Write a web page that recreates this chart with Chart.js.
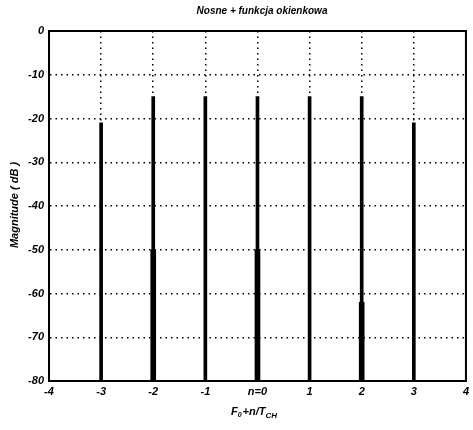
<!DOCTYPE html>
<html>
<head>
<meta charset="utf-8">
<script src="https://cdn.jsdelivr.net/npm/chart.js@4"></script>
<style>
  html, body { margin: 0; padding: 0; background: #fff; }
  #wrap { width: 473px; height: 430px; }
</style>
</head>
<body>
<div id="wrap"><canvas id="chart" width="473" height="430"></canvas></div>
<script>
// carrier positions (F0 + n/Tch) and peak magnitude in dB
const carriers = [-3, -2, -1, 0, 1, 2, 3];
const peaks = [-21, -15, -15, -15, -15, -15, -21];
const floorDb = -80;

// thicker lower parts of some lines
const thickAt = [-2, 0, 2];
const thickTop = [-50, -50, -62];

const xTicks = [-4, -3, -2, -1, 0, 1, 2, 3, 4];
const yTicks = [0, -10, -20, -30, -40, -50, -60, -70, -80];

const FONT = "'Liberation Sans', Arial, sans-serif";

const framePlugin = {
  id: "frame",
  afterDraw(chart) {
    const { ctx, chartArea: a } = chart;
    ctx.save();
    ctx.strokeStyle = "#000";
    ctx.lineWidth = 2;
    ctx.strokeRect(a.left, a.top, a.right - a.left, a.bottom - a.top);

    ctx.fillStyle = "#000";
    // title
    ctx.font = `italic bold 10px ${FONT}`;
    ctx.textAlign = "center";
    ctx.textBaseline = "middle";
    ctx.fillText("Nosne + funkcja okienkowa", 262, 11);

    // y axis title
    ctx.save();
    ctx.translate(15, 205);
    ctx.rotate(-Math.PI / 2);
    ctx.font = `italic bold 11px ${FONT}`;
    ctx.fillText("Magnitude ( dB )", 0, 0);
    ctx.restore();

    // x axis title with subscripts
    let x = 231;
    const y = 412;
    ctx.textAlign = "left";
    const parts = [
      ["F", 11, 0], ["0", 7, 3], ["+n/T", 11, 0], ["CH", 8, 4],
    ];
    parts.forEach(([t, size, dy]) => {
      ctx.font = `italic bold ${size}px ${FONT}`;
      ctx.fillText(t, x, y + dy);
      x += ctx.measureText(t).width + (size < 11 ? 1 : 0);
    });
    ctx.restore();
  },
};

new Chart(document.getElementById("chart"), {
  type: "bar",
  data: {
    datasets: [
      {
        data: carriers.map((c, i) => ({ x: c, y: [floorDb, peaks[i]] })),
        backgroundColor: "#000",
        barThickness: 3,
        grouped: false,
      },
      {
        data: thickAt.map((c, i) => ({ x: c, y: [floorDb, thickTop[i]] })),
        backgroundColor: "#000",
        barThickness: 5,
        grouped: false,
      },
    ],
  },
  options: {
    responsive: false,
    animation: false,
    layout: { padding: { top: 31, right: 2, left: 0, bottom: 0 } },
    plugins: {
      legend: { display: false },
      tooltip: { enabled: false },
    },
    scales: {
      x: {
        type: "linear",
        min: -4,
        max: 4,
        offset: false,
        afterBuildTicks: (s) => { s.ticks = xTicks.map((v) => ({ value: v })); },
        afterFit: (s) => { s.height = 49; },
        ticks: {
          color: "#000",
          padding: 4,
          font: { family: FONT, size: 11, style: "italic", weight: "bold" },
          callback: (v) => (v === 0 ? "n=0" : String(v)),
          maxRotation: 0,
        },
        grid: {
          color: "#000",
          lineWidth: 1.5,
          drawTicks: false,
          offset: false,
        },
        border: { display: true, color: "#000", width: 2, dash: [1.5, 4] },
      },
      y: {
        min: -80,
        max: 0,
        afterBuildTicks: (s) => { s.ticks = yTicks.map((v) => ({ value: v })); },
        afterFit: (s) => { s.width = 49; },
        ticks: {
          color: "#000",
          padding: 5,
          font: { family: FONT, size: 11, style: "italic", weight: "bold" },
        },
        grid: {
          color: "#000",
          lineWidth: 1.5,
          drawTicks: false,
        },
        border: { display: true, color: "#000", width: 2, dash: [1.5, 4] },
      },
    },
  },
  plugins: [framePlugin],
});
</script>
</body>
</html>
